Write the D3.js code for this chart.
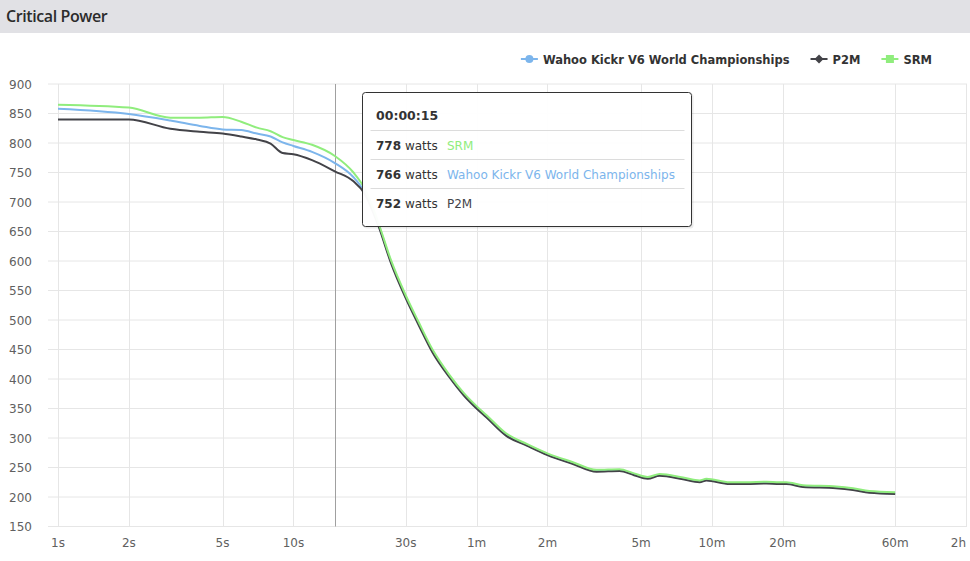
<!DOCTYPE html>
<html>
<head>
<meta charset="utf-8">
<script src="https://cdn.jsdelivr.net/npm/d3@7"></script>
<style>
  body { margin: 0; background: #fff; font-family: "DejaVu Sans", sans-serif; }
  #header { height: 33px; background: #e1e1e5; font-family: "Open Sans", sans-serif; font-weight: 600; font-size: 16px; letter-spacing: -0.4px; color: #2b2b2b; line-height: 32px; padding-left: 6px; }
  svg { display: block; position: absolute; left: 0; top: 0; }
</style>
</head>
<body>
<div id="header">Critical Power</div>
<svg id="chart"></svg>
<script>
// durations in seconds
const durations = [1, 2, 3, 4, 5, 6, 7, 8, 9, 10, 12, 15, 18, 20, 23, 26, 30, 34, 39, 46, 53, 60, 66, 80, 98, 120, 154, 194, 243, 280, 320, 360, 452, 532, 568, 713, 839, 1020, 1162, 1241, 1462, 2020, 2383, 2800, 3600];
const wahoo = [858, 849, 838, 829, 823, 822, 816, 811, 801, 795, 785, 766, 742, 718, 661, 598, 539, 494, 447, 404, 373, 351, 336, 305, 288, 272, 257, 244, 245, 238, 232, 237, 231, 226, 229, 223, 223, 224, 223, 223, 218, 216, 213, 208, 206];
const p2m = [840, 840, 824, 819, 816, 811, 806, 799, 783, 781, 771, 752, 735, 715, 659, 596, 537, 492, 445, 403, 372, 350, 335, 304, 287, 271, 256, 243, 244, 237, 231, 236, 230, 225, 228, 222, 222, 223, 222, 222, 217, 215, 212, 207, 205];
const srm = [865, 860, 843, 843, 844, 836, 826, 820, 810, 805, 797, 778, 750, 724, 664, 601, 542, 497, 450, 407, 376, 354, 339, 308, 290, 274, 259, 246, 247, 240, 234, 239, 233, 228, 231, 225, 225, 226, 225, 225, 220, 218, 215, 210, 208];

const seriesNames = ["Wahoo Kickr V6 World Championships", "P2M", "SRM"];
const seriesColors = ["#7cb5ec", "#434348", "#90ed7d"];
const seriesMarkers = ["circle", "diamond", "square"];
const seriesValues = [wahoo, p2m, srm];

const xTickValues = [1, 2, 5, 10, 30, 60, 120, 300, 600, 1200, 3600, 7200];
const xTickLabels = ["1s", "2s", "5s", "10s", "30s", "1m", "2m", "5m", "10m", "20m", "60m", "2h"];
const yTickValues = [150, 200, 250, 300, 350, 400, 450, 500, 550, 600, 650, 700, 750, 800, 850, 900];

const hoverSecond = 15;

const width = 970, height = 561;
const plotLeft = 48, plotRight = 967, plotTop = 84, plotBottom = 526.5;

const svg = d3.select("#chart").attr("width", width).attr("height", height);

const x = d3.scaleLog().domain([1, 7200]).range([58, 966]);
const y = d3.scaleLinear().domain([150, 900]).range([plotBottom, plotTop]);

// grid
svg.append("g").selectAll("line").data(yTickValues).enter().append("line")
  .attr("x1", plotLeft).attr("x2", plotRight)
  .attr("y1", d => y(d)).attr("y2", d => y(d))
  .attr("stroke", "#e6e6e6").attr("stroke-width", 1);

svg.append("g").selectAll("line").data(xTickValues).enter().append("line")
  .attr("x1", d => Math.round(x(d)) + 0.5).attr("x2", d => Math.round(x(d)) + 0.5)
  .attr("y1", plotTop).attr("y2", plotBottom)
  .attr("stroke", "#e6e6e6").attr("stroke-width", 1);

// y labels
svg.append("g").selectAll("text").data(yTickValues).enter().append("text")
  .attr("x", 32).attr("y", d => y(d) + 4.5)
  .attr("text-anchor", "end")
  .style("font-size", "12px").style("fill", "#606060")
  .text(d => d);

// x labels
const xl = svg.append("g").selectAll("text").data(xTickValues).enter().append("text")
  .attr("x", d => x(d)).attr("y", 547)
  .attr("text-anchor", "middle")
  .style("font-size", "12px").style("fill", "#606060")
  .text((d, i) => xTickLabels[i]);
xl.each(function (d) {
  const w = this.getComputedTextLength();
  if (x(d) + w / 2 > 966) d3.select(this).attr("x", 966 - w / 2);
});

// crosshair
svg.append("line")
  .attr("x1", Math.round(x(hoverSecond)) + 0.5).attr("x2", Math.round(x(hoverSecond)) + 0.5)
  .attr("y1", plotTop).attr("y2", plotBottom)
  .attr("stroke", "#a0a0a0").attr("stroke-width", 1);

// lines
const line = d3.line()
  .x(d => x(d[0]))
  .y(d => y(d[1]))
  .curve(d3.curveMonotoneX);

seriesValues.forEach((vals, i) => {
  svg.append("path")
    .datum(durations.map((s, j) => [s, vals[j]]))
    .attr("d", line)
    .attr("fill", "none")
    .attr("stroke", seriesColors[i])
    .attr("stroke-width", 2)
    .attr("stroke-linejoin", "round");
});

// legend
function marker(g, type, color) {
  if (type === "circle") g.append("circle").attr("r", 4).attr("fill", color);
  else if (type === "diamond") g.append("path").attr("d", "M0,-4.5L4.5,0L0,4.5L-4.5,0Z").attr("fill", color);
  else g.append("rect").attr("x", -4).attr("y", -4).attr("width", 8).attr("height", 8).attr("fill", color);
}
const legend = svg.append("g");
const items = seriesNames.map((name, i) => {
  const g = legend.append("g");
  g.append("line").attr("x1", 0).attr("x2", 17).attr("y1", 0).attr("y2", 0)
    .attr("stroke", seriesColors[i]).attr("stroke-width", 2);
  marker(g.append("g").attr("transform", "translate(8.5,0)"), seriesMarkers[i], seriesColors[i]);
  const t = g.append("text").attr("x", 22).attr("y", 4.5)
    .style("font-size", "11.5px").style("font-weight", "bold").style("fill", "#333")
    .text(name);
  return { g, w: 22 + t.node().getComputedTextLength() };
});
let lx = 932 - d3.sum(items, d => d.w) - 21 * (items.length - 1);
items.forEach(it => {
  it.g.attr("transform", `translate(${lx},59)`);
  lx += it.w + 21;
});

// tooltip
const hi = durations.indexOf(hoverSecond);
const rows = seriesValues.map((vals, i) => ({ v: vals[hi], name: seriesNames[i], color: seriesColors[i] }))
  .sort((a, b) => b.v - a.v);
const fmt = s => [Math.floor(s / 3600), Math.floor(s / 60) % 60, s % 60].map(n => String(n).padStart(2, "0")).join(":");

const tip = svg.append("g").attr("transform", "translate(362.5,92.5)");
tip.append("rect").attr("x", 1).attr("y", 1).attr("width", 330).attr("height", 135).attr("rx", 3)
  .attr("fill", "rgba(0,0,0,0.08)");
tip.append("rect").attr("width", 329).attr("height", 134).attr("rx", 3)
  .attr("fill", "rgba(255,255,255,0.97)").attr("stroke", "#333").attr("stroke-width", 1);
tip.append("text").attr("x", 13.5).attr("y", 27)
  .style("font-size", "12.5px").style("font-weight", "bold").style("fill", "#333")
  .text(fmt(hoverSecond));
[38, 67, 96].forEach(yy => {
  tip.append("line").attr("x1", 8).attr("x2", 322).attr("y1", yy).attr("y2", yy)
    .attr("stroke", "#dcdcdc").attr("stroke-width", 1);
});
rows.forEach((r, i) => {
  const t = tip.append("text").attr("x", 13.5).attr("y", 57 + i * 29.3)
    .style("font-size", "12px").style("fill", "#333");
  t.append("tspan").style("font-weight", "bold").text(r.v);
  t.append("tspan").text(" watts");
  tip.append("text").attr("x", 84.5).attr("y", 57 + i * 29.3)
    .style("font-size", "12px").style("fill", r.color)
    .text(r.name);
});
</script>
</body>
</html>
